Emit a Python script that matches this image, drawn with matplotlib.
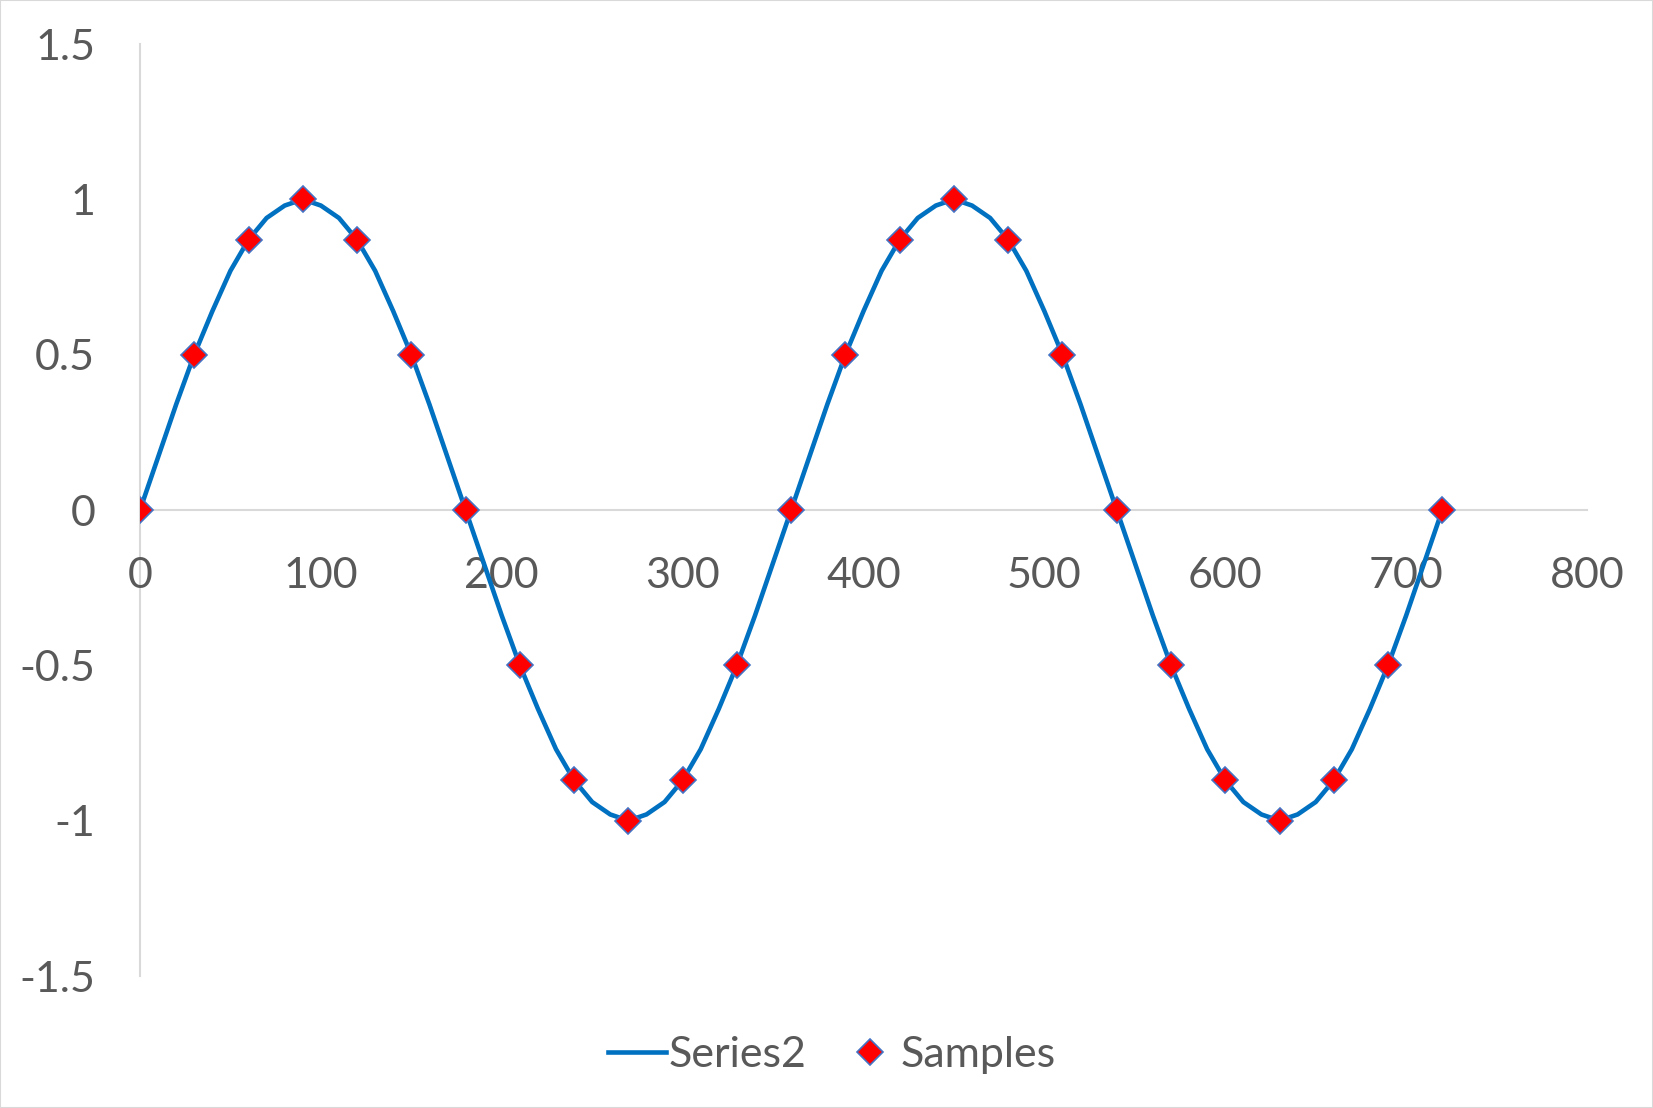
import matplotlib.pyplot as plt
from matplotlib.lines import Line2D

plt.rcParams['font.family'] = ['Lato', 'DejaVu Sans']

# --- dados ---
angles = [0, 10, 20, 30, 40, 50, 60, 70, 80, 90, 100, 110, 120, 130, 140, 150, 160, 170,
          180, 190, 200, 210, 220, 230, 240, 250, 260, 270, 280, 290, 300, 310, 320, 330, 340, 350,
          360, 370, 380, 390, 400, 410, 420, 430, 440, 450, 460, 470, 480, 490, 500, 510, 520, 530,
          540, 550, 560, 570, 580, 590, 600, 610, 620, 630, 640, 650, 660, 670, 680, 690, 700, 710, 720]
series2 = [0, 0.17, 0.34, 0.5, 0.64, 0.77, 0.87, 0.94, 0.98, 1.0, 0.98, 0.94, 0.87, 0.77, 0.64, 0.5, 0.34, 0.17,
           0, -0.17, -0.34, -0.5, -0.64, -0.77, -0.87, -0.94, -0.98, -1.0, -0.98, -0.94, -0.87, -0.77, -0.64, -0.5, -0.34, -0.17,
           0, 0.17, 0.34, 0.5, 0.64, 0.77, 0.87, 0.94, 0.98, 1.0, 0.98, 0.94, 0.87, 0.77, 0.64, 0.5, 0.34, 0.17,
           0, -0.17, -0.34, -0.5, -0.64, -0.77, -0.87, -0.94, -0.98, -1.0, -0.98, -0.94, -0.87, -0.77, -0.64, -0.5, -0.34, -0.17, 0]

sample_angles = [0, 30, 60, 90, 120, 150, 180, 210, 240, 270, 300, 330, 360,
                 390, 420, 450, 480, 510, 540, 570, 600, 630, 660, 690, 720]
samples = [0, 0.5, 0.87, 1.0, 0.87, 0.5, 0, -0.5, -0.87, -1.0, -0.87, -0.5, 0,
           0.5, 0.87, 1.0, 0.87, 0.5, 0, -0.5, -0.87, -1.0, -0.87, -0.5, 0]

x_ticks = [0, 100, 200, 300, 400, 500, 600, 700, 800]
y_ticks = [-1.5, -1, -0.5, 0, 0.5, 1, 1.5]
y_labels = ['-1.5', '-1', '-0.5', '0', '0.5', '1', '1.5']

# --- estilo ---
blue = '#0070C0'
red = '#FF0000'
edge = '#4472C4'
grey_txt = '#595959'
axis_col = '#D9D9D9'
fs = 31

fig = plt.figure(figsize=(16.53, 11.08), dpi=100)
ax = fig.add_axes([140 / 1653, 1 - 976 / 1108, (1587 - 140) / 1653, (976 - 44) / 1108])

ax.plot(angles, series2, color=blue, lw=3.3, zorder=2)
ax.plot(sample_angles, samples, ls='none', marker='D', ms=13, mfc=red, mec=edge, mew=1.2, zorder=3)

ax.set_xlim(0, 800)
ax.set_ylim(-1.5, 1.5)

# eixos no zero, como no Excel
for s in ['top', 'right']:
    ax.spines[s].set_visible(False)
for s in ['left', 'bottom']:
    ax.spines[s].set_position(('data', 0))
    ax.spines[s].set_color(axis_col)
    ax.spines[s].set_linewidth(1.5)
    ax.spines[s].set_zorder(1)

ax.set_xticks(x_ticks)
ax.set_xticklabels([str(v) for v in x_ticks])
ax.set_yticks(y_ticks)
ax.set_yticklabels(y_labels)
ax.tick_params(axis='both', length=0, labelsize=fs, colors=grey_txt)
ax.tick_params(axis='x', pad=34)
# rótulos do eixo y ficam à esquerda da área, não junto ao eixo
for lab in ax.get_yticklabels():
    lab.set_x(-0.031)
    lab.set_transform(ax.get_yaxis_transform())
    lab.set_horizontalalignment('right')

handles = [Line2D([], [], color=blue, lw=3.3),
           Line2D([], [], ls='none', marker='D', ms=13, mfc=red, mec=edge, mew=1.2)]
leg = fig.legend(handles, ['Series2', 'Samples'], loc='center', bbox_to_anchor=(832 / 1653, 1 - 1055 / 1108),
                 ncol=2, frameon=False, fontsize=fs, handlelength=1.35, handletextpad=0.05,
                 columnspacing=0.8, labelcolor=grey_txt)

# borda fina da figura
fig.patches.append(plt.Rectangle((0, 0), 1, 1, transform=fig.transFigure, fill=False,
                                 edgecolor=axis_col, lw=1.5))

fig.savefig('out.png', dpi=100, facecolor='white')
